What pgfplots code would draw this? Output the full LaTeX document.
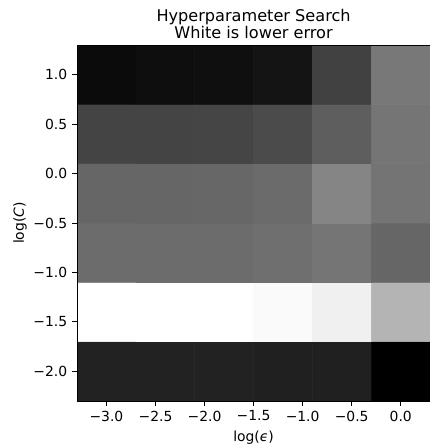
\documentclass[border=0pt]{standalone}
\usepackage{pgfplots}
\pgfplotsset{compat=1.18}
\usepackage{fontspec}
\setmainfont{DejaVu Sans}
\begin{document}
\begin{tikzpicture}
\begin{axis}[
    name=ax,
    scale only axis,
    width=254pt, height=256pt,
    xmin=-3.3, xmax=0.3,
    ymin=-2.3, ymax=1.3,
    enlargelimits=false,
    axis on top,
    colormap={bw}{gray(0cm)=(0); gray(1cm)=(1)},
    point meta min=0, point meta max=255,
    xtick={-3,-2.5,-2,-1.5,-1,-0.5,0},
    xticklabels={−3.0,−2.5,−2.0,−1.5,−1.0,−0.5,0.0},
    ytick={-2,-1.5,-1,-0.5,0,0.5,1},
    yticklabels={−2.0,−1.5,−1.0,−0.5,0.0,0.5,1.0},
    tick align=outside,
    xtick pos=bottom, ytick pos=left,
    major tick length=3.5pt,
    tick style={black, line width=0.6pt},
    axis line style={line width=0.6pt},
    ticklabel style={font=\fontsize{10}{12}\selectfont},
    label style={font=\fontsize{10}{12}\selectfont},
    xlabel={log(\textit{ϵ})},
    ylabel={log(\textit{C})},
    ylabel style={yshift=-2pt},
    title={Hyperparameter Search\\ White is lower error},
    title style={align=center, font=\fontsize{11.6}{11}\selectfont, yshift=-5pt},
]
\addplot[matrix plot*, mesh/cols=6, point meta=explicit] table[meta=c] {
x y c
-3.0 -2.0 34
-2.4 -2.0 34
-1.8 -2.0 34
-1.2 -2.0 32
-0.6 -2.0 32
0.0 -2.0 0
-3.0 -1.4 253
-2.4 -1.4 254
-1.8 -1.4 255
-1.2 -1.4 248
-0.6 -1.4 238
0.0 -1.4 179
-3.0 -0.8 107
-2.4 -0.8 107
-1.8 -0.8 107
-1.2 -0.8 110
-0.6 -0.8 116
0.0 -0.8 101
-3.0 -0.2 101
-2.4 -0.2 101
-1.8 -0.2 102
-1.2 -0.2 106
-0.6 -0.2 132
0.0 -0.2 115
-3.0 0.4 68
-2.4 0.4 68
-1.8 0.4 69
-1.2 0.4 74
-0.6 0.4 93
0.0 0.4 116
-3.0 1.0 11
-2.4 1.0 14
-1.8 1.0 15
-1.2 1.0 20
-0.6 1.0 65
0.0 1.0 119
};
\end{axis}
\pgfresetboundingbox
\path ([shift={(-55.4pt,-32.4pt)}]ax.south west) rectangle ([shift={(-0.7pt,32.4pt)}]ax.north east);
\end{tikzpicture}
\end{document}
